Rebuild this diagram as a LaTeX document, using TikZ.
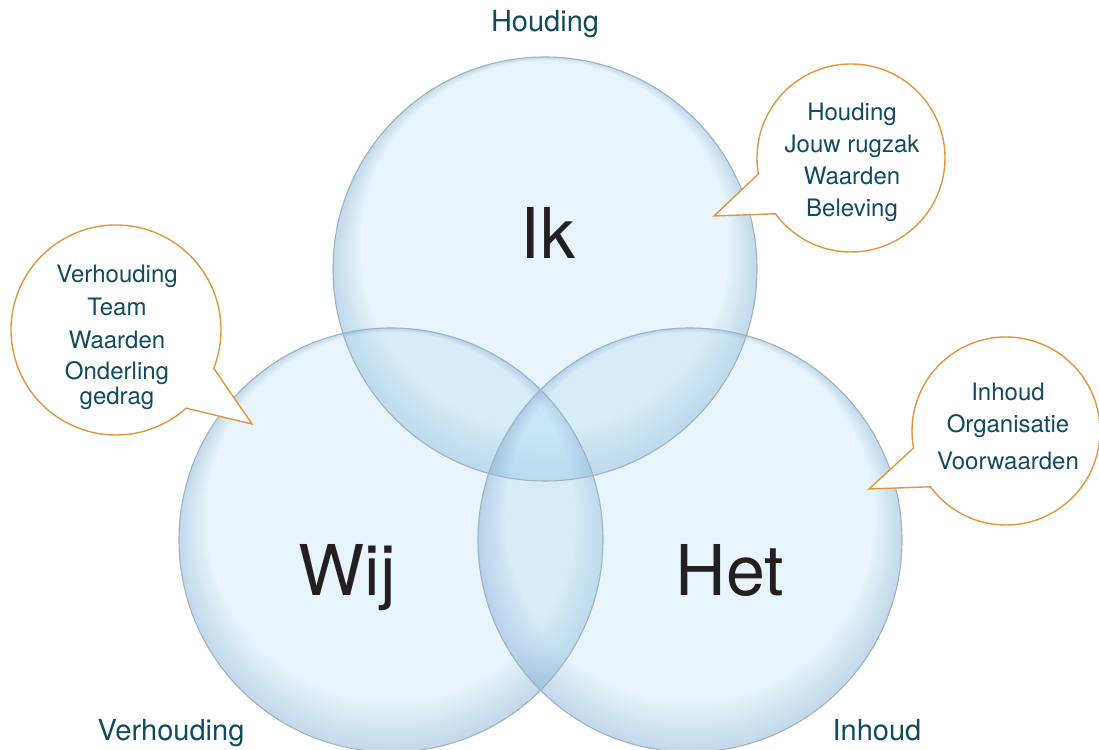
\documentclass[tikz,border=0pt]{standalone}
\usepackage{fontspec}
\setmainfont{TeX Gyre Heros}
\definecolor{txtteal}{HTML}{114B5F}
\definecolor{bigblack}{HTML}{231F20}
\definecolor{callorange}{HTML}{E0963F}
\definecolor{vennedge}{HTML}{9AB4C4}
\definecolor{vennin}{HTML}{B2DBF2}
\definecolor{vennglowc}{HTML}{4E8DB8}
\tikzset{
  vennfill/.style={fill=vennin, fill opacity=0.3},
  venngl/.style={fill=vennglowc, fill opacity=0.017, even odd rule},
  vennline/.style={draw=vennedge, line width=1.1pt},
  bigtxt/.style={text=bigblack, font=\fontsize{70}{70}\selectfont, inner sep=0pt},
  lbl/.style={text=txtteal, font=\fontsize{29}{29}\selectfont, inner sep=0pt},
  calltxt/.style={text=txtteal, font=\fontsize{24}{24}\selectfont, inner sep=0pt, anchor=base},
  callout/.style={fill=white, draw=callorange, line width=1.4pt, line join=miter}
}
\begin{document}
\begin{tikzpicture}[x=1pt,y=1pt]
\useasboundingbox (0,0) rectangle (1099,749);
\fill[white] (0,0) rectangle (1099,749);
% circles
\coordinate (cIk) at (545,480);
\coordinate (cWij) at (391,209);
\coordinate (cHet) at (690,209);
\foreach \c in {cIk,cWij,cHet}{
  \fill[vennfill] (\c) circle[radius=212];
  \foreach \k in {1,...,13}{
    \fill[venngl] (\c) circle[radius=212] ([yshift={1.75*\k}]\c) circle[radius={212-2.05*\k}];
  }
}
\draw[vennline] (cIk) circle[radius=212];
\draw[vennline] (cWij) circle[radius=212];
\draw[vennline] (cHet) circle[radius=212];
% big words
\node[bigtxt, anchor=base] (ik) at (548,490) {Ik};
\node[bigtxt, anchor=base] (wij) at (347,153) {Wij};
\node[bigtxt, anchor=base] (het) at (730,153) {Het};
% outer labels
\node[lbl, anchor=base] (lhouding) at (545,717) {Houding};
\node[lbl, anchor=base] (lverhouding) at (171,9) {Verhouding};
\node[lbl, anchor=base] (linhoud) at (877,9) {Inhoud};
% callout Ik
\coordinate (cbIk) at (851,591);
\coordinate (tipIk) at (714,533);
\path[callout] (cbIk) ++(216.4:94) arc[start angle=216.4, end angle=549.8, radius=94] -- (tipIk) -- cycle;
\node[calltxt] (ik1) at (852,628) {Houding};
\node[calltxt] (ik2) at (852,596) {Jouw rugzak};
\node[calltxt] (ik3) at (852,564) {Waarden};
\node[calltxt] (ik4) at (852,532) {Beleving};
% callout Wij
\coordinate (cbWij) at (116,419);
\coordinate (tipWij) at (252,325);
\path[callout] (cbWij) ++(-21.4:105) arc[start angle=-21.4, end angle=311.9, radius=105] -- (tipWij) -- cycle;
\node[calltxt] (wij1) at (117,466) {Verhouding};
\node[calltxt] (wij2) at (117,433) {Team};
\node[calltxt] (wij3) at (117,400) {Waarden};
\node[calltxt] (wij4) at (117,369) {Onderling};
\node[calltxt] (wij5) at (117,344) {gedrag};
% callout Het
\coordinate (cbHet) at (1006,318);
\coordinate (tipHet) at (869,260);
\path[callout] (cbHet) ++(216.4:94) arc[start angle=216.4, end angle=550.4, radius=94] -- (tipHet) -- cycle;
\node[calltxt] (het1) at (1008,348) {Inhoud};
\node[calltxt] (het2) at (1008,316) {Organisatie};
\node[calltxt] (het3) at (1008,279) {Voorwaarden};
\end{tikzpicture}
\end{document}
